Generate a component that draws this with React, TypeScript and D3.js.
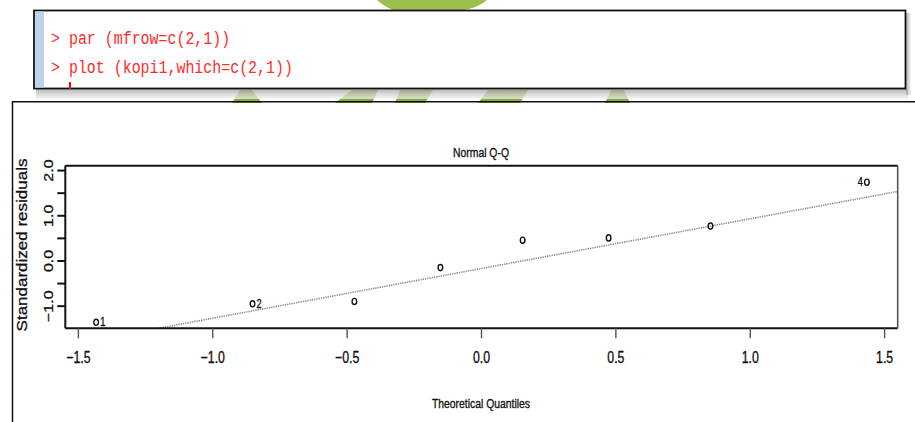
import React from "react";
import * as d3 from "d3";

// ---- data ----
const consoleLines = ["> par (mfrow=c(2,1))", "> plot (kopi1,which=c(2,1))"];
const plotTitle = "Normal Q-Q";
const xLabel = "Theoretical Quantiles";
const yLabel = "Standardized residuals";
const theoreticalQuantiles = [-1.434, -0.852, -0.473, -0.153, 0.153, 0.473, 0.852, 1.434];
const standardizedResiduals = [-1.356, -0.947, -0.895, -0.147, 0.46, 0.511, 0.771, 1.742];
const pointIds = ["1", "2", "", "", "", "", "", "4"];
const xTicks = [-1.5, -1.0, -0.5, 0.0, 0.5, 1.0, 1.5];
const yTicks = [-1.0, -0.5, 0.0, 0.5, 1.0, 1.5, 2.0];
const yTickLabels = [-1.0, 0.0, 1.0, 2.0];

// R-like quantile (type 7)
function q7(sorted: number[], p: number) {
  const h = (sorted.length - 1) * p;
  const lo = Math.floor(h);
  return sorted[lo] + (h - lo) * ((sorted[lo + 1] ?? sorted[lo]) - sorted[lo]);
}

export default function App() {
  const W = 915, H = 422;
  const left = 65.3, right = 897.7, top = 165.7, bottom = 328.3;

  const xr = d3.extent(theoreticalQuantiles) as [number, number];
  const xpad = (xr[1] - xr[0]) * 0.04;
  const x = d3.scaleLinear().domain([xr[0] - xpad, xr[1] + xpad]).range([left, right]);

  const yr = d3.extent(standardizedResiduals) as [number, number];
  const yTop = yr[1] + (yr[1] - yr[0]) * 0.075;
  const ypad = (yTop - yr[0]) * 0.04;
  const y = d3.scaleLinear().domain([yr[0] - ypad, yTop + ypad]).range([bottom, top]);

  // qqline
  const sorted = [...standardizedResiduals].sort((a, b) => a - b);
  const q1 = q7(sorted, 0.25), q3 = q7(sorted, 0.75);
  const z = 0.6744898;
  const slope = (q3 - q1) / (2 * z);
  const intercept = q1 + z * slope;
  const xd = x.domain();
  const linePts: [number, number][] = [xd[0], xd[1]].map((v) => [x(v), y(intercept + slope * v)]);
  const lineGen = d3.line();

  const sx = 0.77;
  const green = "#9dbf4e";
  const txt = { fill: "#111", stroke: "#111", strokeWidth: 0.35 };

  return (
    <svg width={W} height={H} style={{ position: "absolute", left: 0, top: 0, background: "#fff" }}
      fontFamily="Arial, 'Liberation Sans', sans-serif">
      <defs>
        <linearGradient id="shadowV" x1="0" y1="0" x2="0" y2="1">
          <stop offset="0" stopColor="#9a9a9a" />
          <stop offset="0.5" stopColor="#cfcfcf" />
          <stop offset="1" stopColor="#f4f4f4" />
        </linearGradient>
        <linearGradient id="shadowH" x1="0" y1="0" x2="1" y2="0">
          <stop offset="0" stopColor="#9a9a9a" />
          <stop offset="1" stopColor="#f4f4f4" />
        </linearGradient>
        <clipPath id="plotClip">
          <rect x={left} y={top} width={right - left} height={bottom - top} />
        </clipPath>
      </defs>
      <rect width={W} height={H} fill="#fff" />

      {/* green watermark pieces */}
      <path d="M377,0 L487,0 C480,6 470,10 455,11 L395,11 C388,8 381,4 377,0 Z" fill={green} />
      <path d="M232,103 L240,90 L252,90 L262,103 Z" fill="#86a83e" />
      <path d="M335,103 L352,90 L378,90 L372,103 Z" fill="#86a83e" />
      <path d="M395,103 L400,90 L433,90 L425,103 Z" fill="#86a83e" />
      <path d="M478,103 L488,90 L528,90 L520,103 Z" fill="#86a83e" />
      <path d="M605,103 L611,90 L624,90 L630,103 Z" fill="#86a83e" />

      {/* console box */}
      <rect x={36} y={89} width={872} height={10} fill="url(#shadowV)" opacity={0.75} />
      <rect x={906} y={13} width={5} height={82} fill="url(#shadowH)" opacity={0.75} />
      <rect x={34} y={10.5} width={871.5} height={78} fill="#fff" stroke="#111" strokeWidth={1.8} />
      <rect x={35} y={11.5} width={9} height={76} fill="#bdd3ea" />
      {consoleLines.map((s, i) => (
        <text key={i} transform={`translate(51,${44 + i * 28.5}) scale(0.83,1)`} fill="#ff2a2a"
          fontFamily="'Liberation Mono', 'Courier New', monospace" fontSize={18} xmlSpace="preserve">
          {s}
        </text>
      ))}
      <rect x={69} y={82} width={2} height={7} fill="#ff0000" />

      {/* lower panel frame */}
      <path d="M12.5,422 L12.5,101.8 L915,101.8" fill="none" stroke="#111" strokeWidth={1.5} />

      {/* title */}
      <text transform={`translate(481,156.5) scale(${sx},1)`} textAnchor="middle" fontSize={13.5} {...txt}>
        {plotTitle}
      </text>

      {/* qq line */}
      <g clipPath="url(#plotClip)">
        <path d={lineGen(linePts) || ""} fill="none" stroke="#8a8a8a" strokeWidth={1.6} strokeDasharray="1.3 1" />
      </g>

      {/* points */}
      {theoreticalQuantiles.map((v, i) => (
        <ellipse key={i} cx={x(v)} cy={y(standardizedResiduals[i])} rx={2.3} ry={3.1}
          fill="none" stroke="#111" strokeWidth={1.4} />
      ))}
      {theoreticalQuantiles.map((v, i) => {
        if (!pointIds[i]) return null;
        const rightSide = v < 0;
        const px = x(v) + (rightSide ? 4 : -4);
        return (
          <text key={"l" + i} transform={`translate(${px},${y(standardizedResiduals[i]) + 4}) scale(${sx},1)`}
            textAnchor={rightSide ? "start" : "end"} fontSize={12} {...txt}>
            {pointIds[i]}
          </text>
        );
      })}

      {/* plot box */}
      <line x1={left} y1={top} x2={right} y2={top} stroke="#111" strokeWidth={2} />
      <line x1={left} y1={bottom} x2={right} y2={bottom} stroke="#111" strokeWidth={2} />
      <line x1={left} y1={top} x2={left} y2={bottom} stroke="#111" strokeWidth={2} />
      <line x1={right} y1={top} x2={right} y2={bottom} stroke="#555" strokeWidth={1.6} />

      {/* x axis */}
      {xTicks.map((t) => (
        <g key={t}>
          <line x1={x(t)} x2={x(t)} y1={bottom} y2={bottom + 10} stroke="#555" strokeWidth={1.4} />
          <text transform={`translate(${x(t)},363) scale(${sx},1)`} textAnchor="middle" fontSize={16} {...txt}>
            {d3.format(".1f")(t)}
          </text>
        </g>
      ))}
      <text transform={`translate(481,408) scale(${sx},1)`} textAnchor="middle" fontSize={13.5} {...txt}>
        {xLabel}
      </text>

      {/* y axis */}
      {yTicks.map((t) => (
        <line key={t} x1={left - 8} x2={left} y1={y(t)} y2={y(t)} stroke="#111" strokeWidth={2} />
      ))}
      {yTickLabels.map((t) => (
        <text key={t} transform={`translate(53,${y(t)}) scale(0.85,1) rotate(-90)`} textAnchor="middle"
          fontSize={16} {...txt}>
          {d3.format(".1f")(t)}
        </text>
      ))}
      <text transform={`translate(27,245) scale(0.85,1) rotate(-90)`} textAnchor="middle" fontSize={17} {...txt}>
        {yLabel}
      </text>
    </svg>
  );
}
